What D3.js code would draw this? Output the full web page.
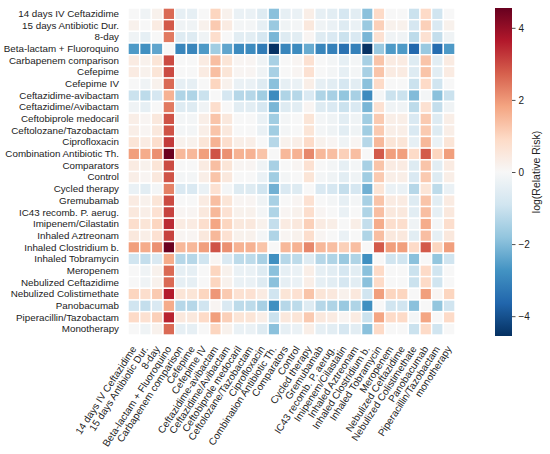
<!DOCTYPE html>
<html>
<head>
<meta charset="utf-8">
<script src="https://cdn.jsdelivr.net/npm/d3@7"></script>
<style>
  body { margin: 0; background: #fff; }
  text { font-family: "Liberation Sans", Arial, sans-serif; fill: #222; }
</style>
</head>
<body>
<svg id="chart"></svg>
<script>
let rowLabels = [
    '14 days IV Ceftazidime', '15 days Antibiotic Dur.', '8-day', 'Beta-lactam + Fluoroquino',
    'Carbapenem comparison', 'Cefepime', 'Cefepime IV', 'Ceftazidime-avibactam',
    'Ceftazidime/Avibactam', 'Ceftobiprole medocaril', 'Ceftolozane/Tazobactam', 'Ciprofloxacin',
    'Combination Antibiotic Th.', 'Comparators', 'Control', 'Cycled therapy', 'Gremubamab',
    'IC43 recomb. P. aerug.', 'Imipenem/Cilastatin', 'Inhaled Aztreonam', 'Inhaled Clostridium b.',
    'Inhaled Tobramycin', 'Meropenem', 'Nebulized Ceftazidime', 'Nebulized Colistimethate',
    'Panobacumab', 'Piperacillin/Tazobactam', 'Monotherapy'
];

let colLabels = rowLabels.slice(0, 27).concat(['monotherapy']);

// log(relative risk), row vs column
let logRR = [
    [0, -0.2, 0.2, 2.6, -0.4, -0.4, 0, 1.0, 0.2, -0.3, -0.3, -0.6, -1.9, -0.4, -0.3, 0.3, -0.4, -0.5, -0.8, -0.5, -1.9, 0.9, 0, 0, -1.0, 0.9, -0.9, 0],
    [0.2, 0, 0.4, 2.8, -0.2, -0.2, 0.2, 1.2, 0.4, -0.1, -0.1, -0.4, -1.7, -0.2, -0.1, 0.5, -0.2, -0.3, -0.6, -0.3, -1.7, 1.1, 0.2, 0.2, -0.8, 1.1, -0.7, 0.2],
    [-0.2, -0.4, 0, 2.4, -0.6, -0.6, -0.2, 0.8, 0, -0.5, -0.5, -0.8, -2.1, -0.6, -0.5, 0.1, -0.6, -0.7, -1.0, -0.7, -2.1, 0.7, -0.2, -0.2, -1.2, 0.7, -1.1, -0.2],
    [-2.6, -2.8, -2.4, 0, -3.0, -3.0, -2.6, -1.6, -2.4, -2.9, -2.9, -3.2, -4.5, -3.0, -2.9, -2.3, -3.0, -3.1, -3.4, -3.1, -4.5, -1.7, -2.6, -2.6, -3.6, -1.7, -3.5, -2.6],
    [0.4, 0.2, 0.6, 3.0, 0, 0, 0.4, 1.4, 0.6, 0.1, 0.1, -0.2, -1.5, 0, 0.1, 0.7, 0, -0.1, -0.4, -0.1, -1.5, 1.3, 0.4, 0.4, -0.6, 1.3, -0.5, 0.4],
    [0.4, 0.2, 0.6, 3.0, 0, 0, 0.4, 1.4, 0.6, 0.1, 0.1, -0.2, -1.5, 0, 0.1, 0.7, 0, -0.1, -0.4, -0.1, -1.5, 1.3, 0.4, 0.4, -0.6, 1.3, -0.5, 0.4],
    [0, -0.2, 0.2, 2.6, -0.4, -0.4, 0, 1.0, 0.2, -0.3, -0.3, -0.6, -1.9, -0.4, -0.3, 0.3, -0.4, -0.5, -0.8, -0.5, -1.9, 0.9, 0, 0, -1.0, 0.9, -0.9, 0],
    [-1.0, -1.2, -0.8, 1.6, -1.4, -1.4, -1.0, 0, -0.8, -1.3, -1.3, -1.6, -2.9, -1.4, -1.3, -0.7, -1.4, -1.5, -1.8, -1.5, -2.9, -0.1, -1.0, -1.0, -2.0, -0.1, -1.9, -1.0],
    [-0.2, -0.4, 0, 2.4, -0.6, -0.6, -0.2, 0.8, 0, -0.5, -0.5, -0.8, -2.1, -0.6, -0.5, 0.1, -0.6, -0.7, -1.0, -0.7, -2.1, 0.7, -0.2, -0.2, -1.2, 0.7, -1.1, -0.2],
    [0.3, 0.1, 0.5, 2.9, -0.1, -0.1, 0.3, 1.3, 0.5, 0, 0, -0.3, -1.6, -0.1, 0, 0.6, -0.1, -0.2, -0.5, -0.2, -1.6, 1.2, 0.3, 0.3, -0.7, 1.2, -0.6, 0.3],
    [0.3, 0.1, 0.5, 2.9, -0.1, -0.1, 0.3, 1.3, 0.5, 0, 0, -0.3, -1.6, -0.1, 0, 0.6, -0.1, -0.2, -0.5, -0.2, -1.6, 1.2, 0.3, 0.3, -0.7, 1.2, -0.6, 0.3],
    [0.6, 0.4, 0.8, 3.2, 0.2, 0.2, 0.6, 1.6, 0.8, 0.3, 0.3, 0, -1.3, 0.2, 0.3, 0.9, 0.2, 0.1, -0.2, 0.1, -1.3, 1.5, 0.6, 0.6, -0.4, 1.5, -0.3, 0.6],
    [1.9, 1.7, 2.1, 4.5, 1.5, 1.5, 1.9, 2.9, 2.1, 1.6, 1.6, 1.3, 0, 1.5, 1.6, 2.2, 1.5, 1.4, 1.1, 1.4, 0, 2.8, 1.9, 1.9, 0.9, 2.8, 1.0, 1.9],
    [0.4, 0.2, 0.6, 3.0, 0, 0, 0.4, 1.4, 0.6, 0.1, 0.1, -0.2, -1.5, 0, 0.1, 0.7, 0, -0.1, -0.4, -0.1, -1.5, 1.3, 0.4, 0.4, -0.6, 1.3, -0.5, 0.4],
    [0.3, 0.1, 0.5, 2.9, -0.1, -0.1, 0.3, 1.3, 0.5, 0, 0, -0.3, -1.6, -0.1, 0, 0.6, -0.1, -0.2, -0.5, -0.2, -1.6, 1.2, 0.3, 0.3, -0.7, 1.2, -0.6, 0.3],
    [-0.3, -0.5, -0.1, 2.3, -0.7, -0.7, -0.3, 0.7, -0.1, -0.6, -0.6, -0.9, -2.2, -0.7, -0.6, 0, -0.7, -0.8, -1.1, -0.8, -2.2, 0.6, -0.3, -0.3, -1.3, 0.6, -1.2, -0.3],
    [0.4, 0.2, 0.6, 3.0, 0, 0, 0.4, 1.4, 0.6, 0.1, 0.1, -0.2, -1.5, 0, 0.1, 0.7, 0, -0.1, -0.4, -0.1, -1.5, 1.3, 0.4, 0.4, -0.6, 1.3, -0.5, 0.4],
    [0.5, 0.3, 0.7, 3.1, 0.1, 0.1, 0.5, 1.5, 0.7, 0.2, 0.2, -0.1, -1.4, 0.1, 0.2, 0.8, 0.1, 0, -0.3, 0, -1.4, 1.4, 0.5, 0.5, -0.5, 1.4, -0.4, 0.5],
    [0.8, 0.6, 1.0, 3.4, 0.4, 0.4, 0.8, 1.8, 1.0, 0.5, 0.5, 0.2, -1.1, 0.4, 0.5, 1.1, 0.4, 0.3, 0, 0.3, -1.1, 1.7, 0.8, 0.8, -0.2, 1.7, -0.1, 0.8],
    [0.5, 0.3, 0.7, 3.1, 0.1, 0.1, 0.5, 1.5, 0.7, 0.2, 0.2, -0.1, -1.4, 0.1, 0.2, 0.8, 0.1, 0, -0.3, 0, -1.4, 1.4, 0.5, 0.5, -0.5, 1.4, -0.4, 0.5],
    [1.9, 1.7, 2.1, 4.5, 1.5, 1.5, 1.9, 2.9, 2.1, 1.6, 1.6, 1.3, 0, 1.5, 1.6, 2.2, 1.5, 1.4, 1.1, 1.4, 0, 2.8, 1.9, 1.9, 0.9, 2.8, 1.0, 1.9],
    [-0.9, -1.1, -0.7, 1.7, -1.3, -1.3, -0.9, 0.1, -0.7, -1.2, -1.2, -1.5, -2.8, -1.3, -1.2, -0.6, -1.3, -1.4, -1.7, -1.4, -2.8, 0, -0.9, -0.9, -1.9, 0, -1.8, -0.9],
    [0, -0.2, 0.2, 2.6, -0.4, -0.4, 0, 1.0, 0.2, -0.3, -0.3, -0.6, -1.9, -0.4, -0.3, 0.3, -0.4, -0.5, -0.8, -0.5, -1.9, 0.9, 0, 0, -1.0, 0.9, -0.9, 0],
    [0, -0.2, 0.2, 2.6, -0.4, -0.4, 0, 1.0, 0.2, -0.3, -0.3, -0.6, -1.9, -0.4, -0.3, 0.3, -0.4, -0.5, -0.8, -0.5, -1.9, 0.9, 0, 0, -1.0, 0.9, -0.9, 0],
    [1.0, 0.8, 1.2, 3.6, 0.6, 0.6, 1.0, 2.0, 1.2, 0.7, 0.7, 0.4, -0.9, 0.6, 0.7, 1.3, 0.6, 0.5, 0.2, 0.5, -0.9, 1.9, 1.0, 1.0, 0, 1.9, 0.1, 1.0],
    [-0.9, -1.1, -0.7, 1.7, -1.3, -1.3, -0.9, 0.1, -0.7, -1.2, -1.2, -1.5, -2.8, -1.3, -1.2, -0.6, -1.3, -1.4, -1.7, -1.4, -2.8, 0, -0.9, -0.9, -1.9, 0, -1.8, -0.9],
    [0.9, 0.7, 1.1, 3.5, 0.5, 0.5, 0.9, 1.9, 1.1, 0.6, 0.6, 0.3, -1.0, 0.5, 0.6, 1.2, 0.5, 0.4, 0.1, 0.4, -1.0, 1.8, 0.9, 0.9, -0.1, 1.8, 0, 0.9],
    [0, -0.2, 0.2, 2.6, -0.4, -0.4, 0, 1.0, 0.2, -0.3, -0.3, -0.6, -1.9, -0.4, -0.3, 0.3, -0.4, -0.5, -0.8, -0.5, -1.9, 0.9, 0, 0, -1.0, 0.9, -0.9, 0]
];

let colorTicks = [-4, -2, 0, 2, 4];
let vLimit = 4.55;

// matplotlib RdBu_r stops
let rdbuR = ['#053061', '#2166ac', '#4393c3', '#92c5de', '#d1e5f0', '#f7f7f7',
             '#fddbc7', '#f4a582', '#d6604d', '#b2182b', '#67001f'];

let width = 550;
let height = 454;
let mLeft = 128, mRight = 455, mTop = 8, mBottom = 335;

let svg = d3.select('#chart')
    .attr('width', width)
    .attr('height', height);

let xScale = d3.scaleBand().domain(colLabels).range([mLeft, mRight]);
let yScale = d3.scaleBand().domain(rowLabels).range([mTop, mBottom]);

let colorScale = d3.scaleLinear()
    .domain(d3.range(rdbuR.length).map(i => -vLimit + i * (2 * vLimit) / (rdbuR.length - 1)))
    .range(rdbuR)
    .interpolate(d3.interpolateRgb)
    .clamp(true);

let cells = [];
logRR.forEach((row, i) => row.forEach((v, j) => cells.push({ row: rowLabels[i], col: colLabels[j], value: v })));

svg.append('g')
    .selectAll('rect')
    .data(cells)
    .enter()
    .append('rect')
    .attr('x', d => xScale(d.col))
    .attr('y', d => yScale(d.row))
    .attr('width', xScale.bandwidth())
    .attr('height', yScale.bandwidth())
    .attr('fill', d => colorScale(d.value))
    .attr('stroke', '#fff')
    .attr('stroke-width', 1.4);

// row labels
let yAxis = d3.axisLeft(yScale).tickSize(0).tickPadding(9);
let gy = svg.append('g')
    .attr('transform', `translate(${mLeft}, 0)`)
    .call(yAxis);
gy.select('.domain').remove();
gy.selectAll('text')
    .style('font-size', '9.8px')
    .style('font-family', '"Liberation Sans", Arial, sans-serif')
    .attr('fill', '#222');

// column labels
let xAxis = d3.axisBottom(xScale).tickSize(0).tickPadding(0);
let gx = svg.append('g')
    .attr('transform', `translate(0, ${mBottom})`)
    .call(xAxis);
gx.select('.domain').remove();
gx.selectAll('text')
    .style('font-size', '10px')
    .style('font-family', '"Liberation Sans", Arial, sans-serif')
    .attr('fill', '#222')
    .attr('text-anchor', 'end')
    .attr('dy', '0.35em')
    .attr('transform', 'translate(0, 12) rotate(-57)');

// colour bar
let cbX = 495, cbW = 17;
let cbScale = d3.scaleLinear().domain([-vLimit, vLimit]).range([336, mTop]);

let grad = svg.append('defs').append('linearGradient')
    .attr('id', 'cbgrad')
    .attr('x1', 0).attr('y1', 1).attr('x2', 0).attr('y2', 0);
rdbuR.forEach((c, i) => grad.append('stop')
    .attr('offset', i / (rdbuR.length - 1))
    .attr('stop-color', c));

svg.append('rect')
    .attr('x', cbX)
    .attr('y', cbScale(vLimit))
    .attr('width', cbW)
    .attr('height', cbScale(-vLimit) - cbScale(vLimit))
    .attr('fill', 'url(#cbgrad)');

let cbAxis = d3.axisRight(cbScale)
    .tickValues(colorTicks)
    .tickSize(3.5)
    .tickPadding(3)
    .tickFormat(d => d < 0 ? '\u2212' + Math.abs(d) : String(d));
let gc = svg.append('g')
    .attr('transform', `translate(${cbX + cbW}, 0)`)
    .call(cbAxis);
gc.select('.domain').remove();
gc.selectAll('line').attr('stroke', '#222').attr('stroke-width', 0.8);
gc.selectAll('text')
    .style('font-size', '10px')
    .style('font-family', '"Liberation Sans", Arial, sans-serif')
    .attr('fill', '#222');

svg.append('text')
    .attr('transform', `translate(540, ${(mTop + 336) / 2}) rotate(-90)`)
    .attr('text-anchor', 'middle')
    .style('font-size', '10.5px')
    .text('log(Relative Risk)');
</script>
</body>
</html>
